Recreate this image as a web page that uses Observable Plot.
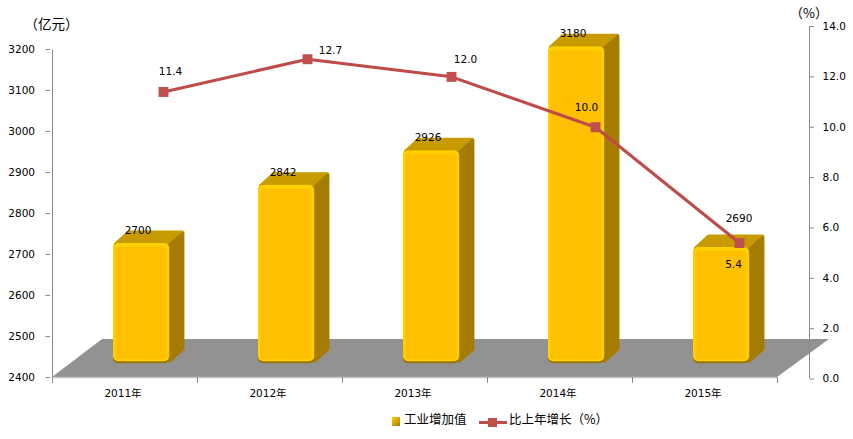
<!DOCTYPE html>
<html><head><meta charset="utf-8">
<script src="https://cdn.jsdelivr.net/npm/d3@7"></script>
<script src="https://cdn.jsdelivr.net/npm/@observablehq/plot@0.6"></script>
<style>
html,body{margin:0;padding:0;background:#fff}
#wrap{position:relative;width:853px;height:439px;overflow:hidden}
#wrap svg{position:absolute;left:0;top:0}
.lg{position:absolute;font-family:"Noto Sans CJK SC",sans-serif;font-size:12.5px;line-height:16px;color:#000;white-space:nowrap}
</style></head><body><div id="wrap"></div>
<script>
const years = ["2011年","2012年","2013年","2014年","2015年"];
const output = [2700,2842,2926,3180,2690];
const growth = [11.4,12.7,12.0,10.0,5.4];
const growthLabels = ["11.4","12.7","12.0","10.0","5.4"];
const leftTicks = [2400,2500,2600,2700,2800,2900,3000,3100,3200];
const rightTicks = [0,2,4,6,8,10,12,14];
const barBase = 2407;

const font = '"DejaVu Sans","Noto Sans CJK SC",sans-serif';
const barRows = years.map((year,i)=>({year,value:output[i]}));
const lineRows = years.map((year,i)=>({year,value:growth[i],label:growthLabels[i]}));

const bandOf = x => x(years[1]) - x(years[0]);
const svgG = context => d3.select(context.document.createElementNS("http://www.w3.org/2000/svg","g"));

// floor, baseline, band-edge ticks, left axis line
function floorMark(index, {x,y}, values, dims, context){
  const g = svgG(context);
  const x0 = x(years[0]), x1 = x(years[4]) + bandOf(x), yb = y(2400);
  g.append("path").attr("d",`M${x0},${yb}L${x0+50},${yb-38}H${x1+52}L${x1},${yb}Z`).attr("fill","#929292");
  g.append("path").attr("d",`M${x0},${yb+.5}H${x1}`).attr("stroke","#c4c4c4").attr("stroke-width",1.5);
  for(let i=0;i<=5;i++){
    const t = Math.round(x0 + i*bandOf(x)) + .5;
    g.append("path").attr("d",`M${t},${yb}v6`).attr("stroke","#8a8a8a");
  }
  g.append("path").attr("d",`M${x0+.5},${y(3200)+.5}V${yb}`).attr("stroke","#8a8a8a");
  return g.node();
}
// 3D side and top faces of each bar
function depthMark(index, {x,y}, values, dims, context){
  const g = svgG(context);
  for(const d of barRows){
    const xl = x(d.year)+61.4, xr = xl+56, top = y(d.value)-11, bot = y(barBase)-11;
    g.append("path").attr("d",`M${xl+2},${top+1}L${xl+15},${top-11}H${xr+13}L${xr},${top+1}Z`)
      .attr("fill","#c89b00").attr("stroke","#c89b00").attr("stroke-width",3).attr("stroke-linejoin","round");
    g.append("path").attr("d",`M${xr},${top+2}L${xr+13.5},${top-10}V${bot-14}L${xr},${bot-2}Z`)
      .attr("fill","#a67c00").attr("stroke","#a67c00").attr("stroke-width",3).attr("stroke-linejoin","round");
  }
  return g.node();
}

const barInset = {insetLeft:61, insetRight:27.8, dy:-11};
const barPlot = Plot.plot({
  width:853, height:439, marginLeft:50, marginRight:74, marginTop:49, marginBottom:62,
  style:{fontFamily:font,fontSize:"10.5px",background:"transparent",color:"#000"},
  x:{type:"band",domain:years,range:[50,779],padding:0,label:null},
  y:{domain:[2400,3200],range:[377,49],label:null},
  marks:[
    floorMark,
    depthMark,
    Plot.barY(barRows,{x:"year",y1:barBase,y2:"value",fill:"#9a7300",rx:5,...barInset}),
    Plot.barY(barRows,{x:"year",y1:barBase,y2:"value",fill:"#ffd000",rx:5,insetBottom:2,...barInset}),
    Plot.barY(barRows,{x:"year",y1:barBase,y2:"value",fill:"#ffc000",rx:3,insetLeft:63.5,insetRight:30.5,insetTop:4,insetBottom:4,dy:-11}),
    Plot.axisY({ticks:leftTicks,tickSize:4.5,tickPadding:11,stroke:"#8a8a8a",fill:"#000",label:null,tickFormat:d=>String(d)}),
    Plot.axisX({tickSize:0,tickPadding:12,fill:"#000",label:null,dx:-2}),
    Plot.text(barRows.filter(d=>d.value!==2690),{x:"year",y:"value",text:d=>String(d.value),dx:13,dy:-24,fill:"#000"}),
    Plot.text(barRows.filter(d=>d.value===2690),{x:"year",y:"value",text:d=>String(d.value),dx:34,dy:-40,fill:"#000"}),
    Plot.text(["（亿元）"],{frameAnchor:"top-left",dx:1,dy:-25,textAnchor:"middle",lineAnchor:"middle",fontSize:13.5,fontFamily:'"Noto Sans CJK SC",sans-serif',fill:"#000"})
  ]
});

const labelOffsets = [[7,-20],[23,-9],[14,-17],[-9,-20],[-6,22]];
const linePlot = Plot.plot({
  width:853, height:439, marginLeft:91, marginRight:44, marginTop:26, marginBottom:60,
  style:{fontFamily:font,fontSize:"10.5px",background:"transparent",color:"#000"},
  x:{type:"band",domain:years,range:[91,811],padding:0,axis:null},
  y:{domain:[0,14],range:[378.5,26],label:null},
  marks:[
    Plot.axisY({anchor:"right",ticks:rightTicks,tickSize:4,tickPadding:9,stroke:"#8a8a8a",fill:"#000",label:null,tickFormat:d=>d.toFixed(1)}),
    Plot.line(lineRows,{x:"year",y:"value",stroke:"#be4b48",strokeWidth:3,strokeLinejoin:"round"}),
    Plot.dot(lineRows,{x:"year",y:"value",symbol:"square",r:5.6,fill:"#c0504d",stroke:"none"}),
    ...lineRows.map((d,i)=>Plot.text([d],{x:"year",y:"value",text:"label",dx:labelOffsets[i][0],dy:labelOffsets[i][1],fill:"#000"})),
    Plot.text(["（%）"],{frameAnchor:"top-left",dx:717.6,dy:-13,textAnchor:"middle",lineAnchor:"middle",fontSize:13,fontFamily:'"Noto Sans CJK SC",sans-serif',fill:"#000"})
  ]
});

const wrap = document.getElementById("wrap");
wrap.append(barPlot, linePlot);

// right axis line
const ry = linePlot.scale("y");
const axisLine = document.createElementNS("http://www.w3.org/2000/svg","path");
axisLine.setAttribute("d",`M809.5,${ry.apply(14)}V${ry.apply(0)}`);
axisLine.setAttribute("stroke","#8a8a8a");
linePlot.prepend(axisLine);

// legend
wrap.insertAdjacentHTML("beforeend",`
 <div style="position:absolute;left:392px;top:417px;width:8px;height:9px;background:linear-gradient(135deg,#ffd000,#a67c00);border:0"></div>
 <div class="lg" style="left:404px;top:411px">工业增加值</div>
 <div style="position:absolute;left:479px;top:420.5px;width:28px;height:3px;background:#be4b48"></div>
 <div style="position:absolute;left:488px;top:417.5px;width:9px;height:9px;background:#c0504d"></div>
 <div class="lg" style="left:509px;top:411px">比上年增长（%）</div>`);
</script></body></html>
